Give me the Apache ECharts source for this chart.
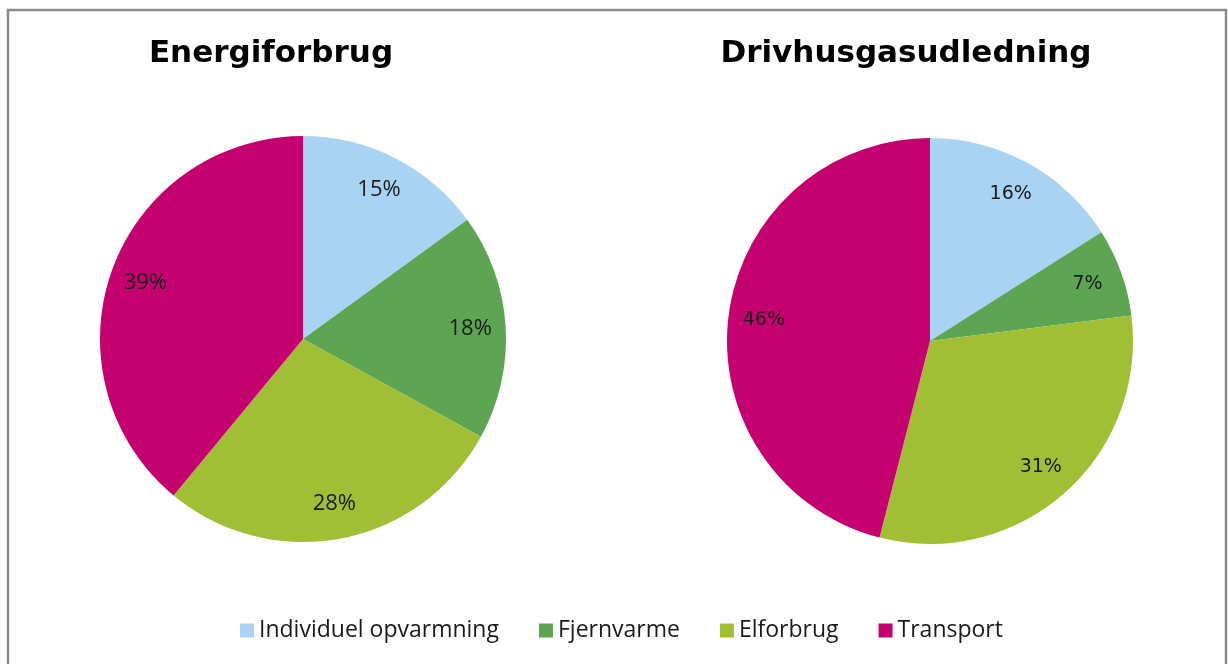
<!DOCTYPE html>
<html>
<head>
<meta charset="utf-8">
<script src="https://cdn.jsdelivr.net/npm/echarts@6/dist/echarts.min.js"></script>
<style>
  html, body { margin: 0; padding: 0; background: #fff; }
  #chart { width: 1228px; height: 664px; }
</style>
</head>
<body>
<div id="chart"></div>
<script>
// data
const categories = ['Individuel opvarmning', 'Fjernvarme', 'Elforbrug', 'Transport'];
const energiValues = [15, 18, 28, 39];
const drivhusValues = [16, 7, 31, 46];
const titles = ['Energiforbrug', 'Drivhusgasudledning'];
const colors = ['#a9d3f3', '#5da552', '#a1bf35', '#c5006f'];

let chart = echarts.init(document.getElementById('chart'));

function toData(values) {
  return values.map((v, i) => ({ name: categories[i], value: v }));
}

// visible pie without labels
function piePart(values, center) {
  return {
    type: 'pie',
    center: center,
    radius: [0, 203],
    startAngle: 90,
    clockwise: true,
    silent: true,
    emphasis: { disabled: true },
    label: { show: false },
    labelLine: { show: false },
    itemStyle: { borderWidth: 0 },
    data: toData(values)
  };
}

// transparent ring only used to place the % labels further out
function labelPart(values, center, font, size) {
  return {
    type: 'pie',
    center: center,
    radius: [126, 203],
    startAngle: 90,
    clockwise: true,
    silent: true,
    emphasis: { disabled: true },
    itemStyle: { color: 'transparent', borderWidth: 0 },
    label: {
      show: true,
      position: 'inside',
      formatter: '{c}%',
      color: '#1a1a1a',
      fontFamily: font,
      fontSize: size
    },
    labelLine: { show: false },
    data: toData(values)
  };
}

let option = {
  animation: false,
  color: colors,
  graphic: [{
    type: 'rect',
    shape: { x: 8, y: 10, width: 1218, height: 700 },
    style: { fill: 'none', stroke: '#8a8a8a', lineWidth: 2.5 },
    silent: true
  }],
  title: [
    {
      text: titles[0],
      left: 266, top: 33,
      textAlign: 'center',
      textStyle: { fontFamily: 'DejaVu Sans', fontWeight: 'bold', fontSize: 31, color: '#000' }
    },
    {
      text: titles[1],
      left: 901, top: 33,
      textAlign: 'center',
      textStyle: { fontFamily: 'DejaVu Sans', fontWeight: 'bold', fontSize: 31, color: '#000' }
    }
  ],
  legend: {
    data: categories,
    left: 235,
    top: 614,
    icon: 'rect',
    itemWidth: 14,
    itemHeight: 14,
    itemGap: 40,
    selectedMode: false,
    textStyle: { fontFamily: 'Open Sans', fontSize: 23, color: '#1a1a1a' }
  },
  series: [
    piePart(energiValues, [303, 339]),
    piePart(drivhusValues, [930, 341]),
    labelPart(energiValues, [303, 339], 'Open Sans', 22),
    labelPart(drivhusValues, [930, 341], 'DejaVu Sans', 19)
  ]
};

chart.setOption(option);
</script>
</body>
</html>
